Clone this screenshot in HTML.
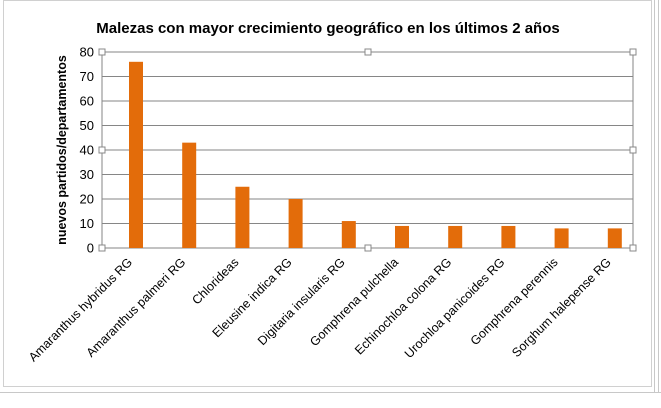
<!DOCTYPE html>
<html><head><meta charset="utf-8"><style>
body{margin:0;background:#fff;width:661px;height:403px;overflow:hidden;font-family:"Liberation Sans",sans-serif}
</style></head><body>
<svg id="chart" width="661" height="403" xmlns="http://www.w3.org/2000/svg">
<rect x="3.5" y="0.5" width="648" height="386" fill="#fff" stroke="#d0d0d0"/>
<line x1="0" y1="392.5" x2="661" y2="392.5" stroke="#c8c8c8"/>
<line x1="654.5" y1="0" x2="654.5" y2="392" stroke="#c8c8c8"/>
<line x1="658.5" y1="0" x2="658.5" y2="392" stroke="#c8c8c8"/>
<text x="328" y="33" text-anchor="middle" font-size="15" font-weight="bold" fill="#000">Malezas con mayor crecimiento geográfico en los últimos 2 años</text>
<text transform="translate(66,150) rotate(-90)" text-anchor="middle" font-size="12.5" font-weight="bold" fill="#000">nuevos partidos/departamentos</text>
<g id="grid"></g><g id="bars"></g><g id="labels"></g>
</svg>
<script>
const categories=["Amaranthus hybridus RG","Amaranthus palmeri RG","Chlorideas","Eleusine indica RG","Digitaria insularis RG","Gomphrena pulchella","Echinochloa colona RG","Urochloa panicoides RG","Gomphrena perennis","Sorghum halepense RG"];
const values=[76,43,25,20,11,9,9,9,8,8];
const ticks=[0,10,20,30,40,50,60,70,80];
const NS="http://www.w3.org/2000/svg";
const x0=102,x1=633,y0=248,y1=52,ymax=80;
const catW=53.2,firstC=136;
const ys=v=>y0-(v/ymax)*(y0-y1);
const xs=i=>firstC+i*catW;
const grid=document.getElementById('grid'),bars=document.getElementById('bars'),labels=document.getElementById('labels');
function mk(t,a,p){const e=document.createElementNS(NS,t);for(const k in a)e.setAttribute(k,a[k]);p.appendChild(e);return e;}
ticks.forEach(t=>{
 const l=mk('line',{x1:x0,x2:x1,y1:ys(t),y2:ys(t),stroke:'#868686','stroke-width':1},grid);
 
 
 const tx=mk('text',{x:x0-8,y:ys(t)+4.5,'text-anchor':'end','font-size':13,fill:'#000'},grid);
 tx.textContent=t;
 
 
});
const ax=mk('line',{x1:x0,x2:x0,y1:y1,y2:y0,stroke:'#868686'},grid);


const rx=mk('line',{x1:x1,x2:x1,y1:y1,y2:y0,stroke:'#868686'},grid);


values.forEach((v,i)=>{
 const b=mk('rect',{x:xs(i)-7,y:ys(v),width:14,height:y0-ys(v),fill:'#E36C0A'},bars);
 
 
 const t=mk('text',{transform:`translate(${xs(i)-3},${y0+15}) rotate(-45)`,'text-anchor':'end','font-size':12.5,fill:'#000'},labels);
 t.textContent=categories[i];
 
 
});
[[x0,y1],[368,y1],[x1,y1],[x0,150],[x1,150],[x0,y0],[368,y0],[x1,y0]].forEach(p=>{
 const h=mk('rect',{x:p[0]-3,y:p[1]-3,width:6,height:6,fill:'#fff',stroke:'#888'},grid);
 
 
});
</script>
</body></html>
